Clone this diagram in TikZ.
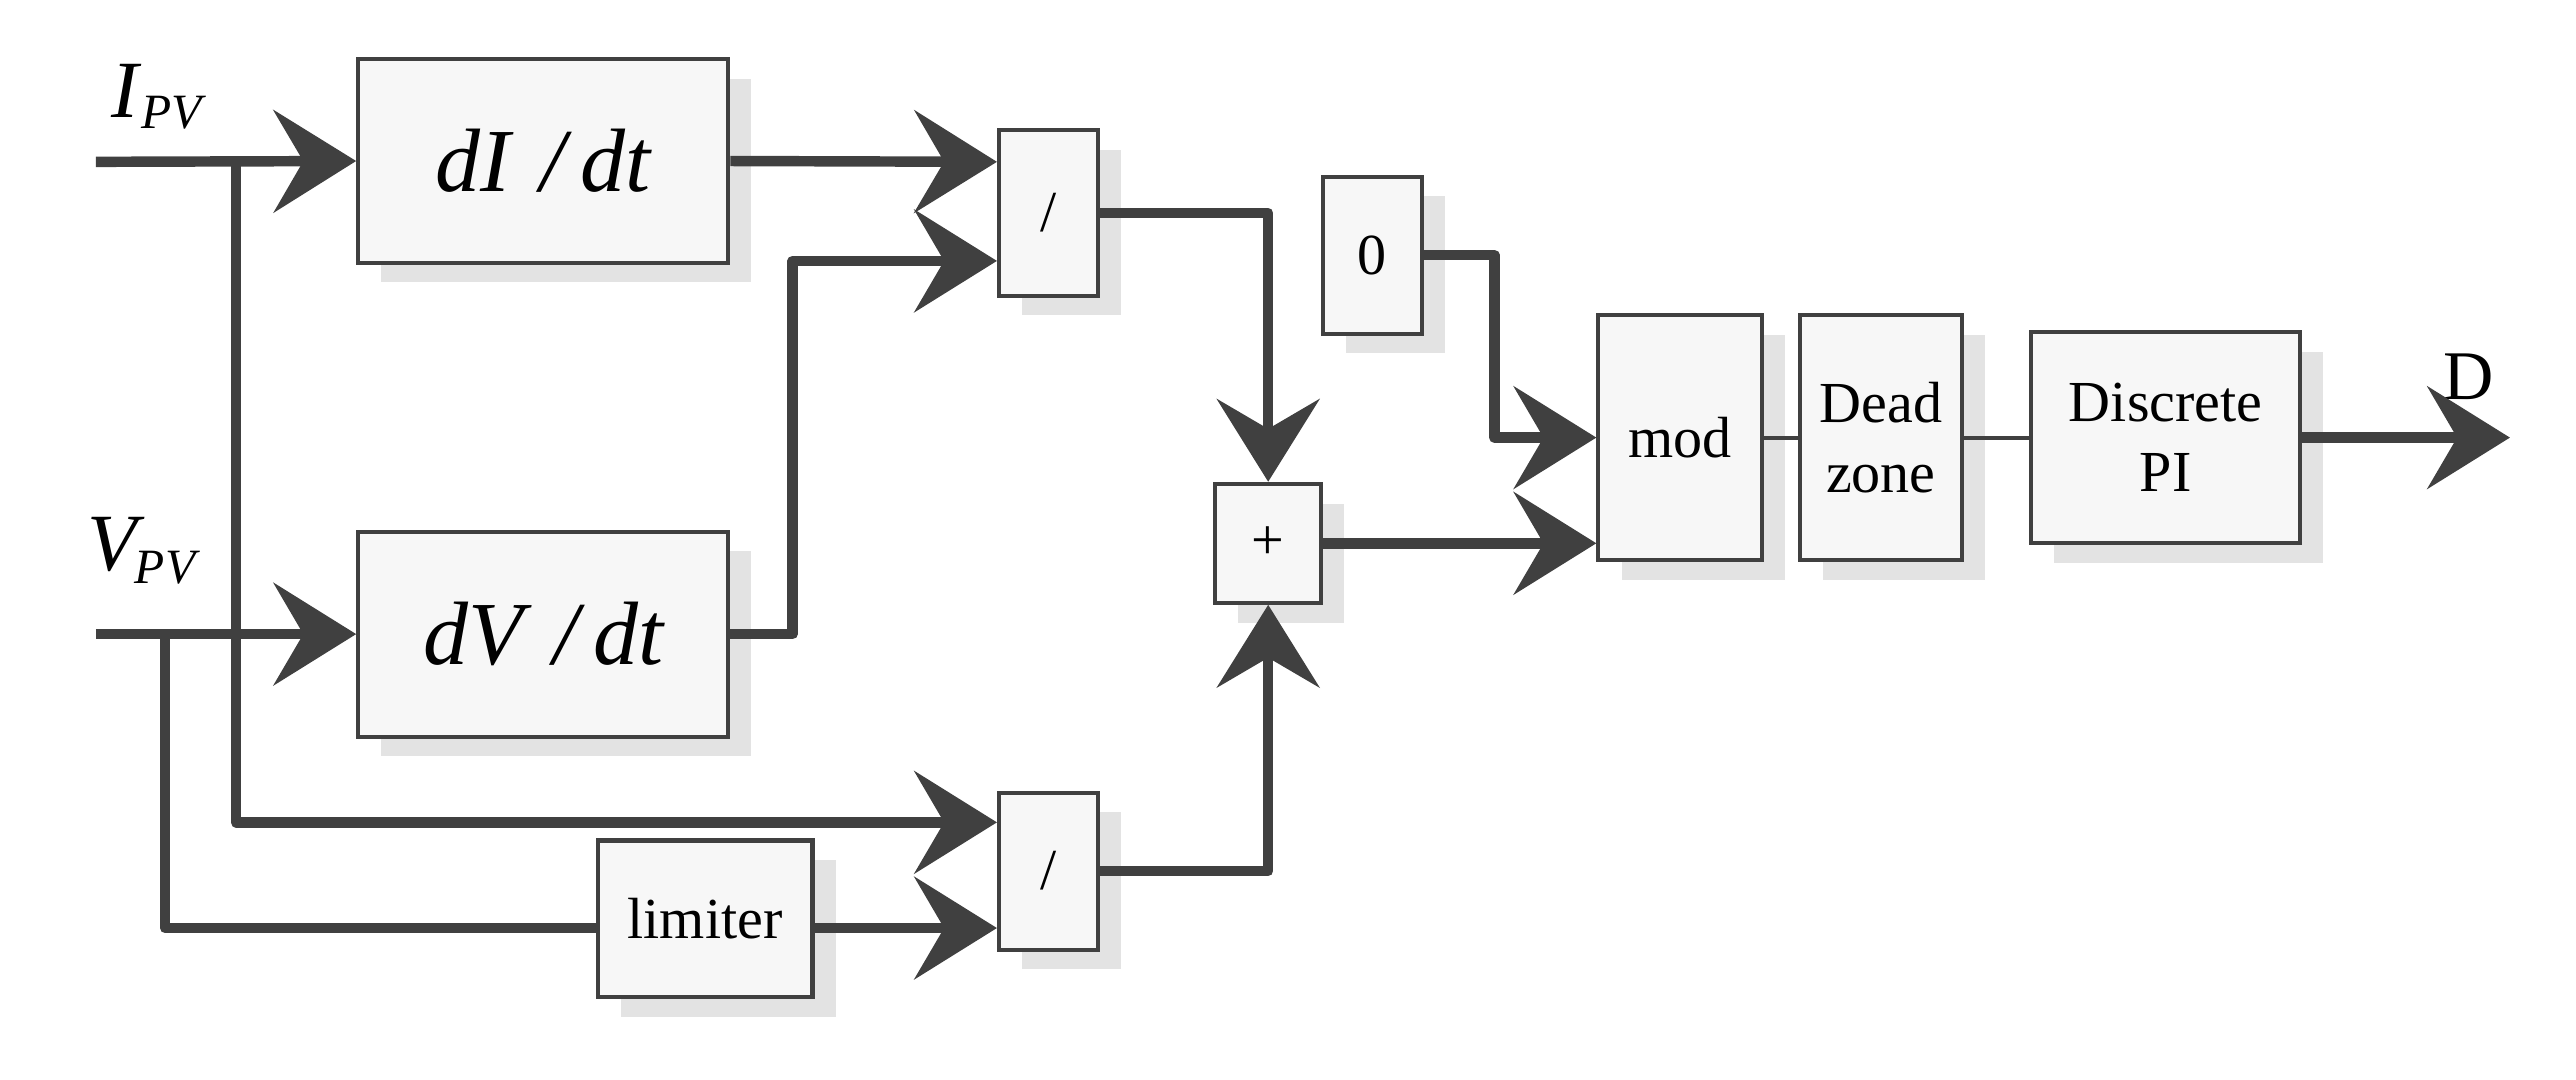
\documentclass[tikz,border=0pt]{standalone}
\usepackage{fontspec}
\setmainfont{Liberation Serif}
\usetikzlibrary{arrows.meta,shadows}
\definecolor{ln}{HTML}{404040}
\begin{document}
\begin{tikzpicture}[x=0.01cm,y=-0.01cm,
  blk/.style={draw=ln,line width=0.7pt,fill=gray!6,inner sep=0pt,
    drop shadow={shadow xshift=0.14cm,shadow yshift=-0.12cm,fill=gray!22,opacity=1}},
  conn/.style={draw=ln,line width=1.8pt,line join=round,-{Stealth[length=5mm,width=6.2mm,inset=1.8mm]}},
  thick/.style={draw=ln,line width=1.8pt,line join=round},
  thin/.style={draw=ln,line width=0.7pt},
  lbl/.style={font=\fontsize{10}{12}\selectfont},
  big/.style={font=\fontsize{15.5}{18}\selectfont\itshape}]
\useasboundingbox (0,0) rectangle (1560,654);
% blocks
\node[blk,minimum width=2.24cm,minimum height=1.23cm,big] (dI) at (329,97.5) {dI\,\,/\,dt};
\node[blk,minimum width=2.24cm,minimum height=1.24cm,big] (dV) at (329,384) {dV\,\,/\,dt};
\node[blk,minimum width=1.30cm,minimum height=0.95cm,lbl] (lim) at (427,556.5) {limiter};
\node[blk,minimum width=0.60cm,minimum height=1.00cm,lbl] (d1) at (635,129) {/};
\node[blk,minimum width=0.60cm,minimum height=0.95cm,lbl] (d2) at (635,527.5) {/};
\node[blk,minimum width=0.64cm,minimum height=0.72cm,lbl] (pl) at (768,329) {+};
\node[blk,minimum width=0.60cm,minimum height=0.95cm,lbl] (z) at (831,154.5) {0};
\node[blk,minimum width=0.99cm,minimum height=1.48cm,lbl] (mod) at (1017.5,265) {mod};
\node[blk,minimum width=0.98cm,minimum height=1.48cm,lbl,align=center] (dz) at (1139,265) {Dead\\zone};
\node[blk,minimum width=1.63cm,minimum height=1.28cm,lbl,align=center] (pi) at (1311.5,265) {Discrete\\PI};
% labels
\node[font=\fontsize{14}{16}\selectfont\itshape] (Il) at (76,55) {I};
\node[font=\fontsize{8.5}{10}\selectfont\itshape] (Is) at (104,68) {PV};
\node[font=\fontsize{14}{16}\selectfont\itshape] (Vl) at (68,330) {V};
\node[font=\fontsize{8.5}{10}\selectfont\itshape] (Vs) at (100,344) {PV};
\node[font=\fontsize{12}{14}\selectfont] (D) at (1495,228) {D};
% coordinates
\coordinate (iin) at (58,98);
\coordinate (vin) at (58,384);
\coordinate (b1) at (143,98);
\coordinate (b2) at (100,384);
\coordinate (out) at (1520,265);
% connectors
\draw[conn] (iin) -- (dI.west);
\draw[conn] (vin) -- (dV.west);
\draw[conn] (b1) -- (143,498) -- (d2.west|-0,498);
\draw[thick] (b2) -- (100,562) -- (lim.west|-0,562);
\draw[conn] (lim.east|-0,562) -- (d2.west|-0,562);
\draw[conn] (dI.east) -- (d1.west|-0,98);
\draw[conn] (dV.east) -- (480,384) -- (480,158) -- (d1.west|-0,158);
\draw[conn] (d1.east) -| (pl.north);
\draw[conn] (d2.east) -| (pl.south);
\draw[conn] (pl.east) -- (mod.west|-pl.east);
\draw[conn] (z.east) -- (905,154.5) -- (905,265) -- (mod.west);
\draw[thin] (mod.east) -- (dz.west);
\draw[thin] (dz.east) -- (pi.west);
\draw[conn] (pi.east) -- (out);
\end{tikzpicture}
\end{document}
